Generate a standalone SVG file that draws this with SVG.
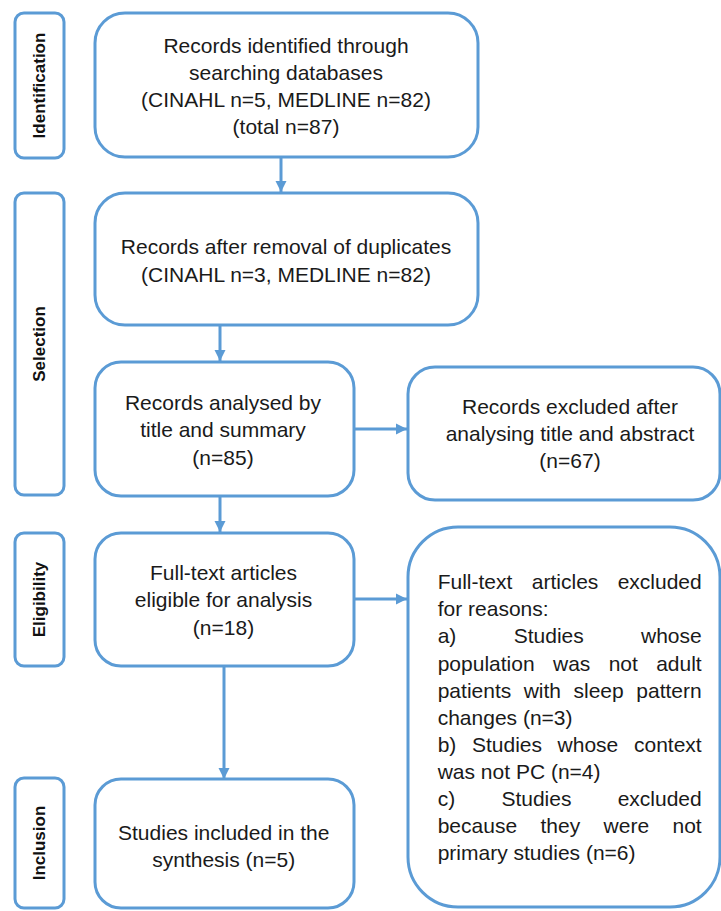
<svg xmlns="http://www.w3.org/2000/svg" width="721" height="911" viewBox="0 0 721 911">
<style>
.box{fill:#fff;stroke:#5B9BD5;stroke-width:3}
.t{font-family:"Liberation Sans",Arial,sans-serif;font-size:21px;fill:#1a1a1a}
.c{text-anchor:middle}
.e{text-anchor:end}
.lbl{font-family:"Liberation Sans",Arial,sans-serif;font-size:17px;font-weight:bold;fill:#111;text-anchor:middle}
.con{stroke:#5B9BD5;stroke-width:3;fill:none;marker-end:url(#ah)}
</style>
<defs>
<marker id="ah" markerUnits="userSpaceOnUse" markerWidth="12" markerHeight="12" viewBox="0 0 12 12" refX="11" refY="6" orient="auto">
<path d="M0,0.5 L11,6 L0,11.5 Z" fill="#5B9BD5"/>
</marker>
</defs>
<rect width="721" height="911" fill="#fff"/>
<g id="label-identification">
<rect class="box" x="15" y="13" width="49" height="145" rx="9"/>
<text class="lbl" transform="translate(39,85.5) rotate(-90)" y="6">Identification</text>
</g>
<g id="label-selection">
<rect class="box" x="15" y="193" width="49" height="302" rx="9"/>
<text class="lbl" transform="translate(39,344) rotate(-90)" y="6">Selection</text>
</g>
<g id="label-eligibility">
<rect class="box" x="15" y="533" width="49" height="133" rx="9"/>
<text class="lbl" transform="translate(39,599.5) rotate(-90)" y="6">Eligibility</text>
</g>
<g id="label-inclusion">
<rect class="box" x="15" y="778" width="49" height="130" rx="9"/>
<text class="lbl" transform="translate(39,843) rotate(-90)" y="6">Inclusion</text>
</g>
<g id="connectors">
<line class="con" x1="281" y1="158" x2="281" y2="192"/>
<line class="con" x1="220" y1="326" x2="220" y2="361"/>
<line class="con" x1="220" y1="497" x2="220" y2="532"/>
<line class="con" x1="354" y1="429" x2="407" y2="429"/>
<line class="con" x1="354" y1="599" x2="407" y2="599"/>
<line class="con" x1="224" y1="667" x2="224" y2="779"/>
</g>
<g id="n1">
<rect class="box" x="95" y="13" width="383" height="144" rx="30"/>
<text class="t c" x="286" y="52.5">Records identified through</text>
<text class="t c" x="286" y="79.5">searching databases</text>
<text class="t c" x="286" y="106.5">(CINAHL n=5, MEDLINE n=82)</text>
<text class="t c" x="286" y="133.5">(total n=87)</text>
</g>
<g id="n2">
<rect class="box" x="95" y="193" width="383" height="132" rx="30"/>
<text class="t c" x="286" y="254">Records after removal of duplicates</text>
<text class="t c" x="286" y="281.5">(CINAHL n=3, MEDLINE n=82)</text>
</g>
<g id="n3">
<rect class="box" x="95" y="362" width="259" height="134" rx="26"/>
<text class="t c" x="223" y="410">Records analysed by</text>
<text class="t c" x="223" y="437">title and summary</text>
<text class="t c" x="223" y="465">(n=85)</text>
</g>
<g id="n4">
<rect class="box" x="408" y="367" width="312" height="133" rx="27"/>
<text class="t c" x="570" y="414">Records excluded after</text>
<text class="t c" x="570" y="441">analysing title and abstract</text>
<text class="t c" x="570" y="468">(n=67)</text>
</g>
<g id="n5">
<rect class="box" x="95" y="533" width="259" height="133" rx="26"/>
<text class="t c" x="223.5" y="580">Full-text articles</text>
<text class="t c" x="223.5" y="607">eligible for analysis</text>
<text class="t c" x="223.5" y="635">(n=18)</text>
</g>
<g id="n6">
<rect class="box" x="408" y="527" width="312" height="380" rx="50"/>
<text class="t" y="589"><tspan x="437.7">Full-text</tspan><tspan x="531.8">articles</tspan><tspan x="701.7" text-anchor="end">excluded</tspan></text>
<text class="t" x="437.7" y="616">for reasons:</text>
<text class="t" y="643"><tspan x="437.7">a)</tspan><tspan x="513.7">Studies</tspan><tspan x="701.7" text-anchor="end">whose</tspan></text>
<text class="t" y="671"><tspan x="437.7">population</tspan><tspan x="553">was</tspan><tspan x="608.7">not</tspan><tspan x="701.7" text-anchor="end">adult</tspan></text>
<text class="t" y="698"><tspan x="437.7">patients</tspan><tspan x="523.7">with</tspan><tspan x="573.5">sleep</tspan><tspan x="701.7" text-anchor="end">pattern</tspan></text>
<text class="t" x="437.7" y="725">changes (n=3)</text>
<text class="t" y="752"><tspan x="437.7">b)</tspan><tspan x="472">Studies</tspan><tspan x="557.6">whose</tspan><tspan x="701.7" text-anchor="end">context</tspan></text>
<text class="t" x="437.7" y="779">was not PC (n=4)</text>
<text class="t" y="806"><tspan x="437.7">c)</tspan><tspan x="501.4">Studies</tspan><tspan x="701.7" text-anchor="end">excluded</tspan></text>
<text class="t" y="833"><tspan x="437.7">because</tspan><tspan x="540.5">they</tspan><tspan x="603.6">were</tspan><tspan x="701.7" text-anchor="end">not</tspan></text>
<text class="t" x="437.7" y="860">primary studies (n=6)</text>
</g>
<g id="n7">
<rect class="box" x="95" y="779" width="259" height="129" rx="26"/>
<text class="t c" x="223.7" y="840">Studies included in the</text>
<text class="t c" x="223.7" y="867">synthesis (n=5)</text>
</g>
</svg>
